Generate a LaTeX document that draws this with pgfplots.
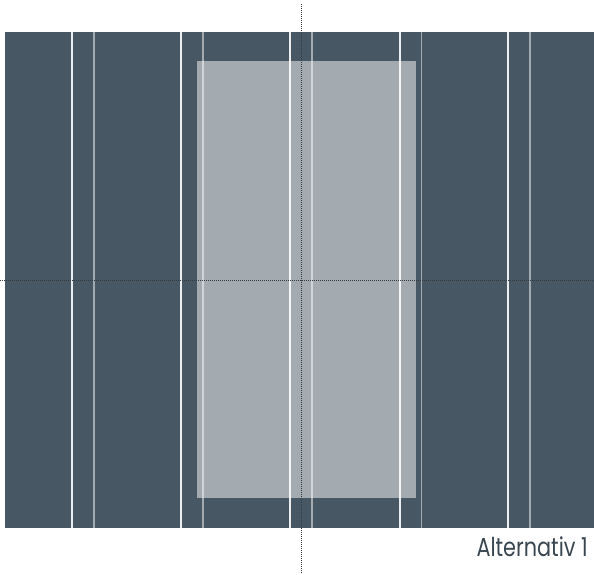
\documentclass[border=0pt]{standalone}
\usepackage{pgfplots}
\pgfplotsset{compat=1.18}
\usepackage{graphicx}
\usepackage{fontspec}
\setmainfont{Poppins}
\definecolor{slate}{HTML}{475864}
\definecolor{dotgray}{HTML}{33383D}
\begin{document}
\begin{tikzpicture}
\begin{axis}[
  scale only axis, width=594pt, height=574pt,
  xmin=0, xmax=594, ymin=0, ymax=574,
  axis lines=none, ticks=none, clip=false,
  unbounded coords=jump,
]
% background panel
\addplot[draw=none, fill=slate] coordinates {(5,46.5) (594,46.5) (594,542) (5,542)} --cycle;
% first line of each pair
\addplot[white, line width=1.1pt, opacity=0.9] table[row sep=\\] {
x y\\ 72 46.5\\ 72 542\\ nan nan\\
181 46.5\\ 181 542\\ nan nan\\
290 46.5\\ 290 542\\ nan nan\\
400 46.5\\ 400 542\\ nan nan\\
508 46.5\\ 508 542\\
};
% second line of each pair
\addplot[white, line width=1.3pt, opacity=0.5] table[row sep=\\] {
x y\\ 94 46.5\\ 94 542\\ nan nan\\
203 46.5\\ 203 542\\ nan nan\\
312 46.5\\ 312 542\\ nan nan\\
421.5 46.5\\ 421.5 542\\ nan nan\\
530 46.5\\ 530 542\\
};
% light box
\addplot[draw=none, fill=white, fill opacity=0.5] coordinates {(197,76.5) (416,76.5) (416,513) (197,513)} --cycle;
% dotted cross
\addplot[dotgray, line width=1pt, dash pattern=on 1pt off 1pt] coordinates {(301,1) (301,571)};
\addplot[dotgray, line width=1pt, dash pattern=on 1pt off 1pt] coordinates {(0,294) (594,294)};
\node[anchor=base east, font=\fontsize{26}{30}\selectfont, text=slate!80!black, inner sep=0pt] at (axis cs:588,18) {\scalebox{0.8}[1]{Alternativ 1}};
\end{axis}
\pgfresetboundingbox
\path (0,0) rectangle (594pt,574pt);
\end{tikzpicture}
\end{document}
